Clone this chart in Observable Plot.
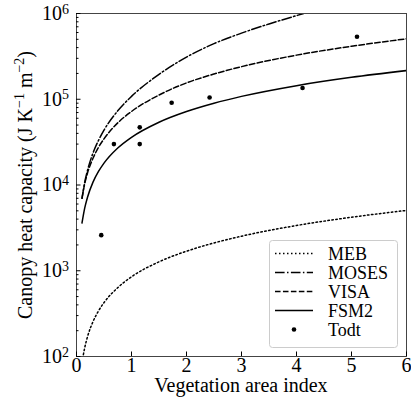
<!DOCTYPE html>
<html><head><meta charset="utf-8">
<script src="https://cdn.jsdelivr.net/npm/d3@7"></script>
<script src="https://cdn.jsdelivr.net/npm/@observablehq/plot@0.6"></script>
<style>
body{margin:0;background:#fff}
</style>
</head><body><div id="chart"></div>
<script>
// Vegetation area index sample points
const vai   = [0.1, 0.15, 0.2, 0.3, 0.4, 0.5, 0.75, 1, 1.5, 2, 2.5, 3, 4, 5, 6];
const meb   = [85, 127, 170, 255, 340, 425, 635, 850, 1270, 1690, 2110, 2530, 3370, 4210, 5050];
const visa  = [7.0e3, 1.04e4, 1.38e4, 2.05e4, 2.75e4, 3.45e4, 5.3e4, 7.2e4, 1.12e5, 1.55e5, 1.97e5, 2.4e5, 3.27e5, 4.15e5, 5.07e5];
const fsm2  = [3.6e3, 5.4e3, 7.2e3, 1.08e4, 1.44e4, 1.8e4, 2.7e4, 3.6e4, 5.4e4, 7.2e4, 9.0e4, 1.08e5, 1.44e5, 1.8e5, 2.16e5];
const mosesVai = [0.1, 0.15, 0.2, 0.3, 0.4, 0.5, 0.75, 1, 1.5, 2, 2.5, 3, 3.5, 4, 4.13];
const moses = [7.0e3, 1.08e4, 1.48e4, 2.36e4, 3.31e4, 4.36e4, 7.33e4, 1.08e5, 1.95e5, 3.1e5, 4.45e5, 5.9e5, 7.55e5, 9.45e5, 1.0e6];
// Todt observations
const todtVai = [0.45, 0.68, 1.15, 1.15, 1.73, 2.42, 4.11, 5.10];
const todtC   = [2.6e3, 3.0e4, 4.7e4, 3.0e4, 9.1e4, 1.05e5, 1.35e5, 5.35e5];
// ticks
const xTicks = [0, 1, 2, 3, 4, 5, 6];
const yTicks = [1e2, 1e3, 1e4, 1e5, 1e6];
const seriesNames = ["MEB", "MOSES", "VISA", "FSM2", "Todt"];

const dashes = {
  MEB: "1.5,2.5",
  MOSES: "9.6,2.4,1.5,2.4",
  VISA: "5.55,2.4",
  FSM2: null
};

const FONT = "'Liberation Serif', 'DejaVu Serif', serif";

const rows = (xs, ys) => xs.map((x, i) => ({x, y: ys[i]}));
const series = [
  {name: "MEB", data: rows(vai, meb)},
  {name: "MOSES", data: rows(mosesVai, moses)},
  {name: "VISA", data: rows(vai, visa)},
  {name: "FSM2", data: rows(vai, fsm2)}
];
const todt = rows(todtVai, todtC);

const yMinor = d3.scaleLog().domain([1e2, 1e6]).ticks().filter(v => !yTicks.includes(v));

const chart = Plot.plot({
  width: 411, height: 410,
  marginLeft: 76, marginRight: 5, marginTop: 13, marginBottom: 54,
  style: {fontSize: "20px", background: "white", color: "black"},
  x: {domain: [0, 6]},
  y: {type: "log", domain: [1e2, 1e6]},
  marks: [
    ...series.map(s => Plot.line(s.data, {
      x: "x", y: "y", stroke: "black", strokeWidth: 1.5,
      strokeDasharray: dashes[s.name] || undefined,
      curve: "monotone-x", clip: true
    })),
    Plot.dot(todt, {x: "x", y: "y", r: 2.3, fill: "black", stroke: null}),
    Plot.frame({stroke: "#444", strokeWidth: 1}),
    Plot.axisX({ticks: xTicks, tickSize: -4.5, tickPadding: 6, tickFormat: d => String(d), label: null, stroke: "black"}),
    Plot.axisY({ticks: yTicks, tickSize: -4.5, tickPadding: 12, tickFormat: d => String(Math.round(Math.log10(d))), label: null, stroke: "black"}),
    Plot.axisY({ticks: yMinor, tickSize: -2.5, tickFormat: () => "", label: null, stroke: "black"})
  ]
});
document.getElementById("chart").appendChild(chart);

const svg = d3.select(chart);
// superscript exponents on y tick labels
svg.selectAll('g[aria-label="y-axis tick label"] text').each(function() {
  const t = d3.select(this);
  const exp = t.text();
  if (!exp) return;
  t.text("10");
  t.append("tspan").attr("dy", "-0.45em").attr("font-size", "14px").text(exp);
});

// axis labels
svg.append("text")
  .attr("x", 241).attr("y", 392)
  .attr("text-anchor", "middle").attr("font-size", 20).attr("fill", "black")
  .text("Vegetation area index");

const yl = svg.append("text")
  .attr("transform", "translate(32,185) rotate(-90)")
  .attr("text-anchor", "middle").attr("font-size", 20).attr("fill", "black");
yl.append("tspan").text("Canopy heat capacity (J K");
yl.append("tspan").attr("dy", -8).attr("font-size", 14).text("\u22121");
yl.append("tspan").attr("dy", 8).text(" m");
yl.append("tspan").attr("dy", -8).attr("font-size", 14).text("\u22122");
yl.append("tspan").attr("dy", 8).text(")");

// legend
const lg = svg.append("g");
lg.append("rect").attr("x", 269.5).attr("y", 240.5).attr("width", 128).attr("height", 107)
  .attr("rx", 3).attr("fill", "white").attr("fill-opacity", 0.8).attr("stroke", "#ccc");
seriesNames.forEach((name, i) => {
  const cy = 253.5 + i * 19;
  if (name === "Todt") {
    lg.append("circle").attr("cx", 294).attr("cy", cy).attr("r", 2.3).attr("fill", "black");
  } else {
    const l = lg.append("line").attr("x1", 275).attr("x2", 313).attr("y1", cy).attr("y2", cy)
      .attr("stroke", "black").attr("stroke-width", 1.5);
    if (dashes[name]) l.attr("stroke-dasharray", dashes[name]);
  }
  lg.append("text").attr("x", 328).attr("y", cy + 6).attr("text-anchor", "start")
    .attr("font-size", 18).attr("fill", "black").text(name);
});

// force serif font on every text
svg.attr("font-family", FONT).style("font-family", FONT);
svg.selectAll("text, tspan").attr("font-family", FONT).style("font-family", FONT);
</script>
</body></html>
